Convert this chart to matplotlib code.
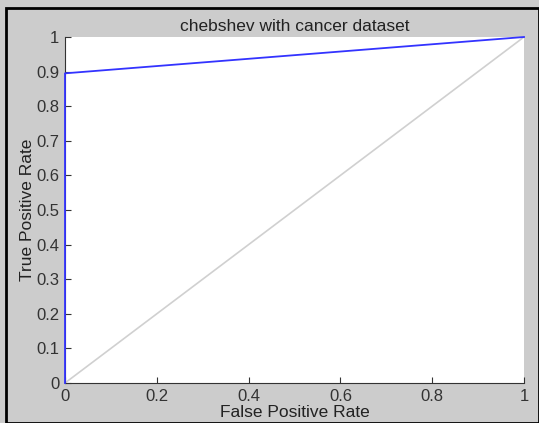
import numpy as np
import matplotlib
matplotlib.use("Agg")
import matplotlib.pyplot as plt
from matplotlib.patches import Rectangle

plt.rcParams['font.family'] = ['Liberation Sans', 'DejaVu Sans']

# ROC points
fpr = [0, 0, 1]
tpr = [0, 0.895, 1]
chance = [0, 1]
ticks = [0, 0.1, 0.2, 0.3, 0.4, 0.5, 0.6, 0.7, 0.8, 0.9, 1]
xticks = [0, 0.2, 0.4, 0.6, 0.8, 1]

fig = plt.figure(figsize=(5.39, 4.23), dpi=100)
fig.patch.set_facecolor('#cccccc')
ax = fig.add_axes([65/539, 1 - 383/423, (524-65)/539, (383-37)/423])
ax.set_facecolor('white')

ax.plot(chance, chance, color='#d0d0d0', lw=1.2)
ax.plot(fpr, tpr, color='#3333ff', lw=1.3, clip_on=False, zorder=5)

ax.set_xlim(0, 1)
ax.set_ylim(0, 1)
ax.set_xticks(xticks)
ax.set_xticklabels(['0', '0.2', '0.4', '0.6', '0.8', '1'])
ax.set_yticks(ticks)
ax.set_yticklabels(['0', '0.1', '0.2', '0.3', '0.4', '0.5', '0.6', '0.7', '0.8', '0.9', '1'])
ax.tick_params(direction='in', length=4, width=0.8, labelsize=12, colors='#333333')
ax.tick_params(axis='x', pad=4)
ax.tick_params(axis='y', pad=4)
for s in ['top', 'right']:
    ax.spines[s].set_visible(False)
for s in ['left', 'bottom']:
    ax.spines[s].set_color('#333333')

ax.set_title('chebshev with cancer dataset', fontsize=12.5, color='#222222', pad=4)
ax.set_xlabel('False Positive Rate', fontsize=12.5, color='#222222', labelpad=1)
ax.set_ylabel('True Positive Rate', fontsize=12.5, color='#222222', labelpad=1)

fig.patches.append(Rectangle((6/539, 0), 1 - 6/539, 1 - 8/423, transform=fig.transFigure,
                             fill=False, edgecolor='black', lw=2))

fig.savefig('out.png', dpi=100, facecolor=fig.get_facecolor())
